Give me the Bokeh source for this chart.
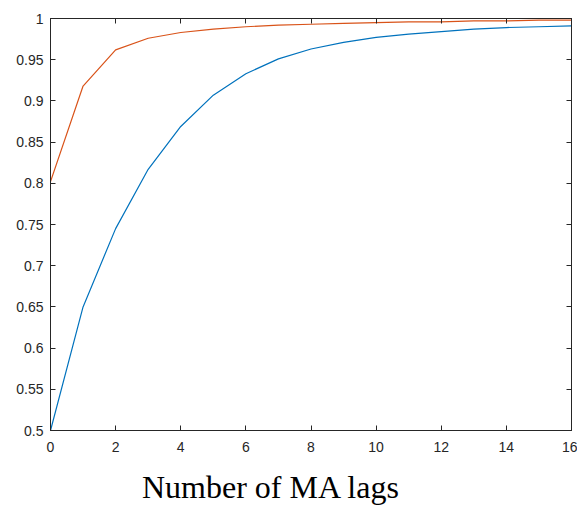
from bokeh.plotting import figure
from bokeh.models import LinearAxis, FixedTicker, Range1d, Div
from bokeh.layouts import column
from bokeh.embed import file_html
from bokeh.resources import INLINE

# Cumulative share explained as the number of MA lags grows
lags = list(range(17))
series_blue = [0.500, 0.650, 0.745, 0.817, 0.869, 0.907, 0.933, 0.951, 0.963,
               0.971, 0.977, 0.981, 0.984, 0.987, 0.989, 0.990, 0.991]
series_orange = [0.802, 0.918, 0.962, 0.976, 0.983, 0.987, 0.990, 0.992, 0.993,
                 0.994, 0.995, 0.996, 0.996, 0.997, 0.997, 0.998, 0.998]
x_ticks = [0, 2, 4, 6, 8, 10, 12, 14, 16]
y_ticks = [0.5, 0.55, 0.6, 0.65, 0.7, 0.75, 0.8, 0.85, 0.9, 0.95, 1.0]
y_tick_labels = {0.5: "0.5", 0.55: "0.55", 0.6: "0.6", 0.65: "0.65", 0.7: "0.7",
                 0.75: "0.75", 0.8: "0.8", 0.85: "0.85", 0.9: "0.9",
                 0.95: "0.95", 1.0: "1"}
x_label = "Number of MA lags"

AX = "#262626"
TICK_FONT = "Liberation Sans"

p = figure(width=577, height=466, output_backend="svg", toolbar_location=None,
           x_range=Range1d(0, 16), y_range=Range1d(0.5, 1.0),
           min_border_left=50, min_border_right=6, min_border_top=18,
           min_border_bottom=36)
p.grid.visible = False
p.outline_line_color = AX
p.outline_line_width = 1
p.background_fill_color = "white"
p.border_fill_color = "white"

p.line(lags, series_blue, line_color="#0072BD", line_width=1.2)
p.line(lags, series_orange, line_color="#D95319", line_width=1.2)

def style(ax, labels=True):
    ax.axis_line_color = AX
    ax.major_tick_line_color = AX
    ax.major_tick_in = 5
    ax.major_tick_out = 0
    ax.minor_tick_line_color = None
    ax.major_label_text_font = TICK_FONT
    ax.major_label_text_font_size = "14px"
    ax.major_label_text_color = AX
    if not labels:
        ax.major_label_text_font_size = "0px"
        ax.major_label_text_color = None

xa = p.xaxis[0]
xa.ticker = FixedTicker(ticks=x_ticks)
style(xa)
xa.major_label_standoff = 11

ya = p.yaxis[0]
ya.ticker = FixedTicker(ticks=y_ticks)
ya.major_label_overrides = y_tick_labels
style(ya)
ya.major_label_standoff = 7

top = LinearAxis(ticker=FixedTicker(ticks=x_ticks))
style(top, labels=False)
p.add_layout(top, "above")
right = LinearAxis(ticker=FixedTicker(ticks=y_ticks))
style(right, labels=False)
p.add_layout(right, "right")

# x-axis caption set underneath the axes
caption = Div(text=x_label, width=577, height=40, margin=0,
              styles={"font-family": "Liberation Serif", "font-size": "32px",
                      "line-height": "38px", "padding-left": "142px",
                      "padding-top": "2px", "box-sizing": "border-box",
                      "color": "black", "white-space": "nowrap",
                      "background": "white"})

layout = column(p, caption, spacing=0)
open("out.html", "w").write(file_html(layout, INLINE))
